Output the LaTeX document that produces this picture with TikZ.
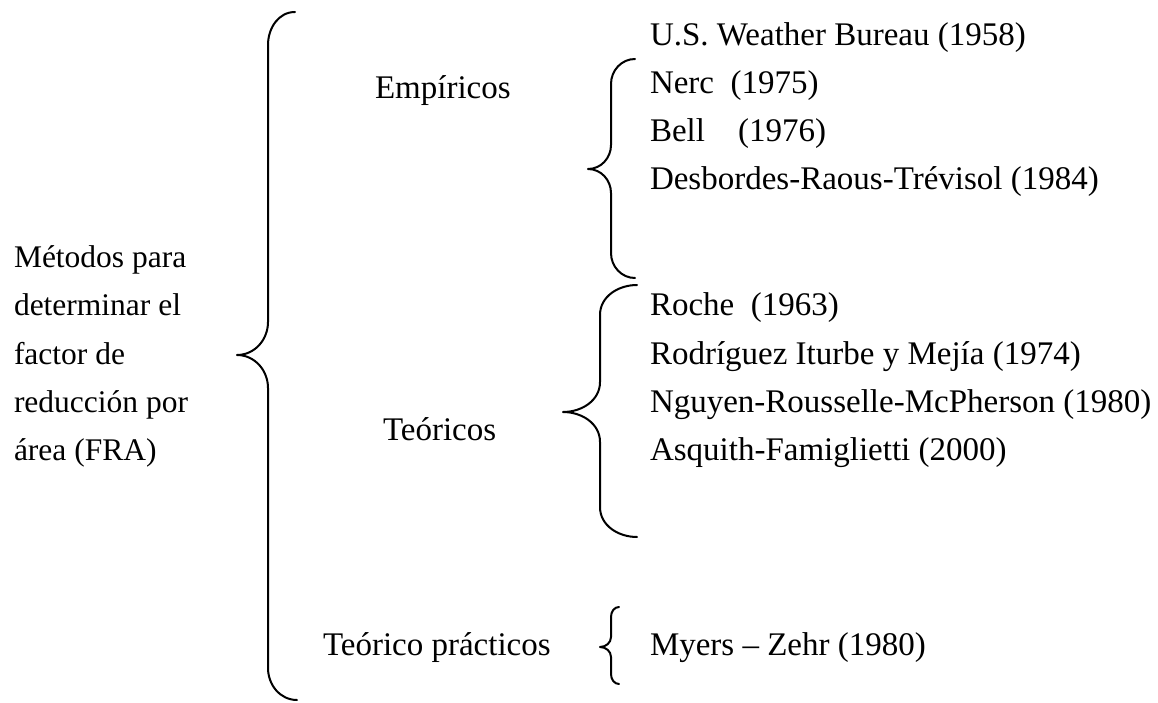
\documentclass[tikz,border=0pt]{standalone}
\usepackage{fontspec}
\setmainfont{Liberation Serif}
\begin{document}
\begin{tikzpicture}[x=1pt,y=-1pt,
  txt/.style={anchor=base west,inner sep=0pt,outer sep=0pt,font=\fontsize{33}{38}\selectfont},
  ltxt/.style={txt,font=\fontsize{31.5}{36}\selectfont},
  brace/.style={line width=2pt,line cap=round,line join=round}]
\useasboundingbox[fill=white] (0,0) rectangle (1158,703);
% left column
\node[ltxt] (l1) at (14,267) {Métodos para};
\node[ltxt] (l2) at (14,315) {determinar el};
\node[ltxt] (l3) at (14,364) {factor de};
\node[ltxt] (l4) at (14,412) {reducción por};
\node[ltxt] (l5) at (14,460) {área (FRA)};
% middle
\node[txt] (emp) at (375,99) {Empíricos};
\node[txt] (teo) at (383,440) {Teóricos};
\node[txt] (tp) at (323,655) {Teórico prácticos};
% right
\node[txt] (r1) at (650,46) {U.S. Weather Bureau (1958)};
\node[txt] (r2) at (650,94) {Nerc\ \ (1975)};
\node[txt] (r3) at (650,142) {Bell\ \ \ \ (1976)};
\node[txt] (r4) at (650,190) {Desbordes-Raous-Trévisol (1984)};
\node[txt] (r5) at (650,315) {Roche\ \ (1963)};
\node[txt] (r6) at (650,364) {Rodríguez Iturbe y Mejía (1974)};
\node[txt] (r7) at (650,412) {Nguyen-Rousselle-McPherson (1980)};
\node[txt] (r8) at (650,460) {Asquith-Famiglietti (2000)};
\node[txt] (r9) at (650,655) {Myers -- Zehr (1980)};
% big brace
\draw[brace] (295,12) to[out=180,in=90] (268,45) -- (268,322)
  to[out=-90,in=0] (237,355) to[out=0,in=90] (268,388) -- (268,668)
  to[out=-90,in=180] (297,700);
% empiricos brace
\draw[brace] (635,59) to[out=180,in=90] (611,84) -- (611,145)
  to[out=-90,in=0] (588,169) to[out=0,in=90] (611,193) -- (611,253)
  to[out=-90,in=180] (635,278);
% teoricos brace
\draw[brace] (637,285) to[out=180,in=90] (600,315) -- (600,382)
  to[out=-90,in=0] (563,412) to[out=0,in=90] (600,442) -- (600,507)
  to[out=-90,in=180] (637,537);
% small brace
\draw[brace] (619,607) to[out=180,in=90] (611,617) -- (611,637)
  to[out=-90,in=0] (600,647) to[out=0,in=90] (611,657) -- (611,674)
  to[out=-90,in=180] (619,684);
\end{tikzpicture}
\end{document}
